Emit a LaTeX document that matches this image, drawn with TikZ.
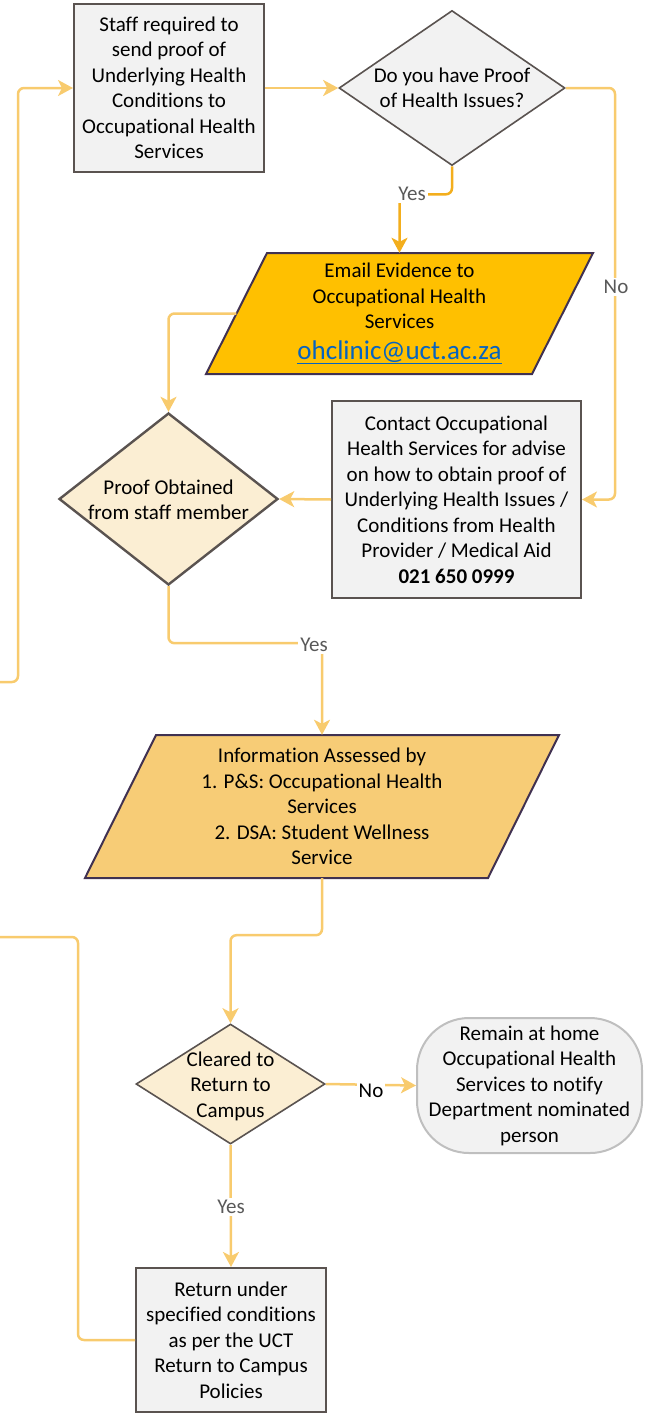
\documentclass[tikz,border=0pt]{standalone}
\usepackage{fontspec}
\setmainfont{Carlito}[Ligatures=NoCommon]
\usetikzlibrary{shapes.geometric,arrows.meta}

\definecolor{boxfill}{HTML}{F2F2F2}
\definecolor{boxedge}{HTML}{5A5350}
\definecolor{decfill}{HTML}{FBEED3}
\definecolor{mailfill}{HTML}{FFC000}
\definecolor{infofill}{HTML}{F7CC76}
\definecolor{slantedge}{HTML}{403151}
\definecolor{flowline}{HTML}{F8CB6E}
\definecolor{flowdark}{HTML}{F3AE1D}
\definecolor{taggray}{HTML}{595959}
\definecolor{mailblue}{HTML}{0563C1}
\definecolor{remainedge}{HTML}{BFBFBF}

\newcommand{\flowfont}{\fontsize{21}{25.5}\selectfont}

\tikzset{
  flowtext/.style={align=center, font=\flowfont, inner sep=0pt},
  procbox/.style={flowtext, rectangle, draw=boxedge, fill=boxfill, line width=2pt},
  decision/.style={diamond, draw=boxedge, inner sep=0pt},
  slantbox/.style={draw=slantedge, line width=2pt},
  flowlink/.style={draw=flowline, line width=2.5pt, rounded corners=6pt,
    -{Stealth[length=15pt, width=16pt, inset=4pt]}},
  flowplain/.style={draw=flowline, line width=2.5pt, rounded corners=6pt},
  flowtag/.style={fill=white, font=\flowfont, text=taggray, inner sep=2pt}
}

\begin{document}
\begin{tikzpicture}[x=1pt,y=-1pt]
  \useasboundingbox (0,0) rectangle (645,1413);

  % top row
  \node[procbox, minimum width=190pt, minimum height=167pt] (staff) at (169,88)
    {Staff required to\\send proof of\\Underlying Health\\Conditions to\\Occupational Health\\Services};
  \node[decision, fill=boxfill, line width=1.6pt, minimum width=226pt, minimum height=155pt] (proofq) at (452,88) {};
  \node[flowtext] (proofqtext) at (proofq) {Do you have Proof\\of Health Issues?};

  % email evidence
  \draw[slantbox, fill=mailfill] (267,253) -- (593,253) -- (532,374) -- (206,374) -- cycle;
  \node[flowtext, minimum width=326pt, minimum height=121pt] (mail) at (399.5,313.5)
    {Email Evidence to\\Occupational Health\\Services\\[5pt]{\color{mailblue}\fontsize{27}{29}\selectfont\underline{ohclinic@uct.ac.za}}};

  % proof obtained / contact
  \node[decision, fill=decfill, line width=2.4pt, minimum width=219pt, minimum height=172pt] (obtained) at (168.5,499) {};
  \node[flowtext] (obtainedtext) at (168.5,500) {Proof Obtained\\from staff member};
  \node[procbox, minimum width=249pt, minimum height=197pt] (contact) at (456.5,499.5)
    {Contact Occupational\\Health Services for advise\\on how to obtain proof of\\Underlying Health Issues /\\Conditions from Health\\Provider / Medical Aid\\\textbf{021 650 0999}};

  % assessment
  \draw[slantbox, fill=infofill] (156,735) -- (559,735) -- (488,878) -- (85,878) -- cycle;
  \node[flowtext, minimum width=403pt, minimum height=143pt] (info) at (322,806.5)
    {Information Assessed by\\1. P\&S: Occupational Health\\Services\\2. DSA: Student Wellness\\Service};

  % clearance
  \node[decision, fill=decfill, line width=1.6pt, minimum width=189pt, minimum height=120pt] (cleared) at (230.5,1084) {};
  \node[flowtext] (clearedtext) at (230.5,1086) {Cleared to\\Return to\\Campus};
  \node[procbox, draw=remainedge, rounded corners=52pt, minimum width=225pt, minimum height=135pt] (remain) at (529.5,1085.5)
    {Remain at home\\Occupational Health\\Services to notify\\Department nominated\\person};
  \node[procbox, minimum width=190pt, minimum height=144pt] (final) at (231,1340)
    {Return under\\specified conditions\\as per the UCT\\Return to Campus\\Policies};

  % connectors
  \coordinate (fromleft) at (0,682);
  \coordinate (toleft) at (0,937);
  \draw[flowlink] (fromleft) -| (18,88) -- (staff.west);
  \draw[flowlink] (staff.east) -- (proofq.west);
  \draw[flowlink, draw=flowdark] (proofq.south) -- ++(0,28) -| (mail.north);
  \draw[flowlink] (proofq.east) -| (615,499.5) -- (contact.east);
  \draw[flowlink] (mail.west) -| (obtained.north);
  \draw[flowlink] (contact.west) -- (obtained.east);
  \draw[flowlink] (obtained.south) -- ++(0,57) -| (info.north);
  \draw[flowlink] (info.south) -- ++(0,57) -| (cleared.north);
  \draw[flowlink] (cleared.east) -- (remain.west);
  \draw[flowlink] (cleared.south) -- (final.north);
  \draw[flowplain] (final.west) -| (78,937) -- (toleft);

  % labels
  \node[flowtag] (yesmail) at (412,194) {Yes};
  \node[flowtag] (nocontact) at (616,287) {No};
  \node[flowtag] (yesinfo) at (314,645) {Yes};
  \node[flowtag, text=black] (noremain) at (371,1091) {No};
  \node[flowtag] (yesfinal) at (231,1207) {Yes};
\end{tikzpicture}
\end{document}
